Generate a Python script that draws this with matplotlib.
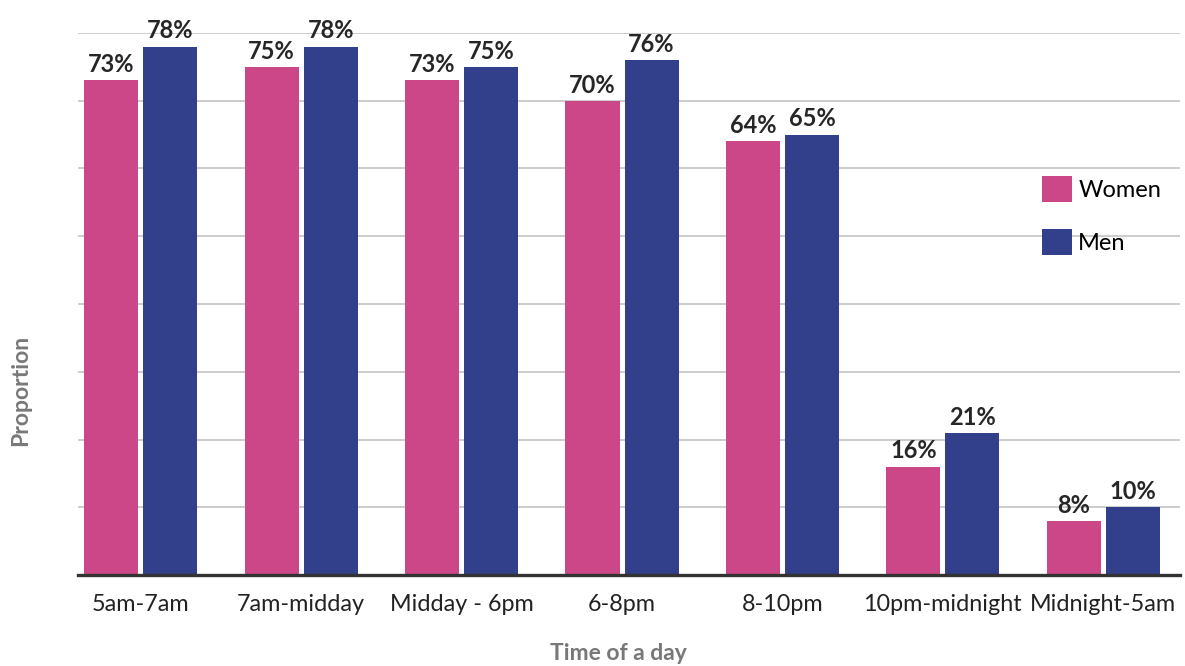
import matplotlib.pyplot as plt
import numpy as np

plt.rcParams['font.family'] = ['Lato', 'DejaVu Sans']

times = ["5am-7am", "7am-midday", "Midday - 6pm", "6-8pm", "8-10pm",
         "10pm-midnight", "Midnight-5am"]
women = [73, 75, 73, 70, 64, 16, 8]
men = [78, 78, 75, 76, 65, 21, 10]

pink = "#cc4787"
navy = "#323f8a"

fig = plt.figure(figsize=(11.85, 6.66), dpi=100)
ax = fig.add_axes([0.066, 0.1366, 0.93, 0.8139])

x = np.arange(len(times))
w = 0.337
off = 0.184
b1 = ax.bar(x - off, women, w, color=pink, label="Women", zorder=3)
b2 = ax.bar(x + off, men, w, color=navy, label="Men", zorder=3)

for bars, vals in [(b1, women), (b2, men)]:
    for r, v in zip(bars, vals):
        ax.annotate(f"{v}%", (r.get_x() + r.get_width() / 2, r.get_height()),
                    xytext=(0, 3), textcoords="offset points", ha="center",
                    va="bottom", fontsize=17, fontweight="bold", color="#262626",
                    annotation_clip=False)

ax.set_xlim(-0.39, 6.48)
ax.set_ylim(0, 80)
ax.set_yticks(np.arange(10, 81, 10))
ax.set_yticklabels([])
ax.grid(axis="y", color="#c8c8c8", lw=1.3, zorder=0)
ax.tick_params(axis="both", length=0)
ax.set_xticks(x)
ax.set_xticklabels(times, fontsize=16.8, color="#222222")
ax.tick_params(axis="x", pad=14)

for s in ["top", "right", "left"]:
    ax.spines[s].set_visible(False)
ax.spines["bottom"].set_color("#333333")
ax.spines["bottom"].set_linewidth(2.4)
ax.spines["bottom"].set_zorder(4)

ax.set_xlabel("Time of a day", fontsize=16.5, fontweight="bold", color="#787878")
ax.xaxis.set_label_coords(0.49, -0.125)
ax.set_ylabel("Proportion", fontsize=16.5, fontweight="bold", color="#787878")
ax.yaxis.set_label_coords(-0.0426, 0.34)

ax.legend(loc="upper left", bbox_to_anchor=(0.871, 0.75), bbox_transform=fig.transFigure,
          frameon=False, fontsize=17, handlelength=1.3, handleheight=1.3,
          handletextpad=0.25, labelspacing=1.15, borderaxespad=0)

fig.savefig("out.png", dpi=100)
